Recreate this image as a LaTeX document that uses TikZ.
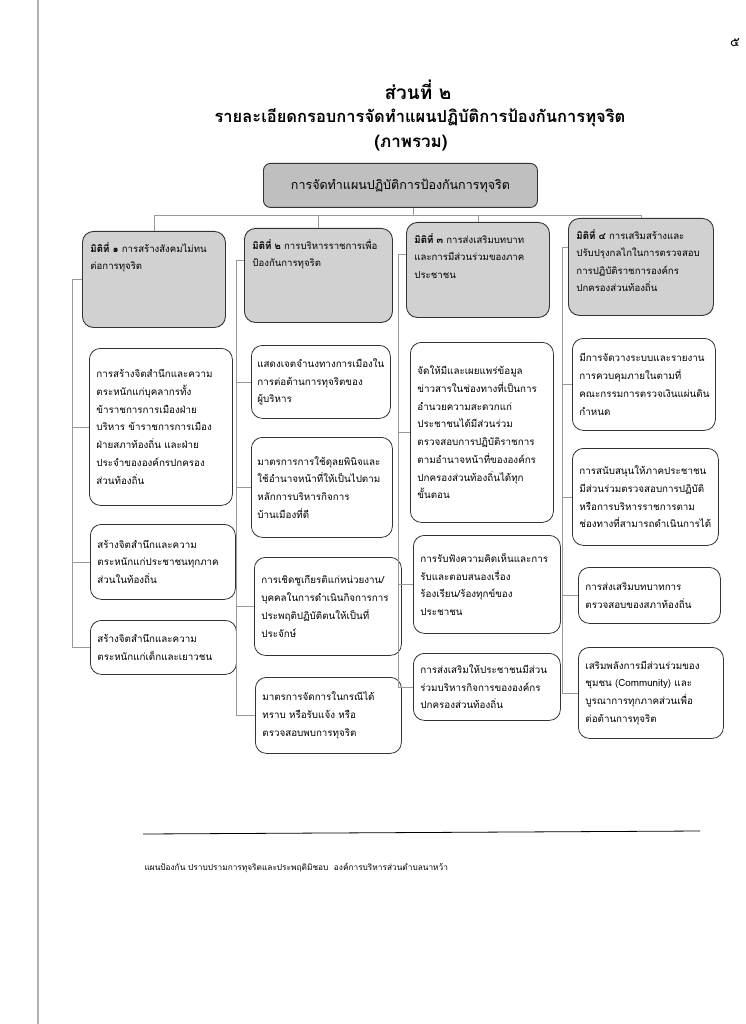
\documentclass[tikz,border=0pt]{standalone}
\usepackage{fontspec}
\newfontfamily\thaifont[Script=Thai]{Loma}
\newcommand{\dimtext}[3]{\parbox[c][#1pt][t]{#2pt}{\raggedright #3}}

\begin{document}
\begin{tikzpicture}[x=1pt,y=-1pt,
  every node/.style={font=\thaifont},
  headbox/.style={draw=black!80, line width=0.9pt, rounded corners=7pt, fill=black!25,
    anchor=north west, font=\thaifont\fontsize{12.5}{15}\selectfont},
  dimbox/.style={draw=black!80, line width=0.9pt, rounded corners=11pt, fill=black!18,
    anchor=north west, inner sep=0pt, font=\thaifont\fontsize{9.6}{17.5}\selectfont},
  itembox/.style={draw=black!80, line width=0.8pt, rounded corners=11pt, fill=white,
    anchor=north west, inner sep=0pt, align=left, font=\thaifont\fontsize{9.8}{17.7}\selectfont},
  link/.style={draw=black!40, line width=0.6pt}]

\useasboundingbox (0,0) rectangle (745,1024);

% scanned page edge
\draw[black!30, line width=1.5pt] (38,0) -- (38,1024);

% Define parameters
\def\busy{215}

% ===== PAGE NUMBER AND TITLE =====
\node (pagenum) at (735,43) {\fontsize{13}{13}\selectfont ๕};
\node (part)  at (418,90)  {\fontsize{19}{22}\selectfont\bfseries ส่วนที่ ๒};
\node (title) at (420,118) {\fontsize{16.5}{20}\selectfont\bfseries รายละเอียดกรอบการจัดทำแผนปฏิบัติการป้องกันการทุจริต};
\node (whole) at (411,143) {\fontsize{17}{20}\selectfont\bfseries (ภาพรวม)};

% ===== TOP BOX =====
\node[headbox, minimum width=274pt, minimum height=44pt] (top) at (263,163)
  {การจัดทำแผนปฏิบัติการป้องกันการทุจริต};

% ===== DIMENSIONS =====
\node[dimbox, minimum width=143pt, minimum height=96pt] (d1) at (82,231)
  {\dimtext{74}{127}{\textbf{มิติที่ ๑} การสร้างสังคมไม่ทน\\ต่อการทุจริต}};
\node[dimbox, minimum width=148pt, minimum height=94pt] (d2) at (244,228)
  {\dimtext{72}{132}{\textbf{มิติที่ ๒} การบริหารราชการเพื่อ\\ป้องกันการทุจริต}};
\node[dimbox, minimum width=143pt, minimum height=95pt] (d3) at (406,222)
  {\dimtext{73}{127}{\textbf{มิติที่ ๓} การส่งเสริมบทบาท\\และการมีส่วนร่วมของภาค\\ประชาชน}};
\node[dimbox, minimum width=145pt, minimum height=97pt] (d4) at (568,218)
  {\dimtext{75}{129}{\textbf{มิติที่ ๔} การเสริมสร้างและ\\ปรับปรุงกลไกในการตรวจสอบ\\การปฏิบัติราชการองค์กร\\ปกครองส่วนท้องถิ่น}};

% bus from the top box to the four dimensions
\coordinate (bus) at (413,\busy);
\draw[link] (bus |- top.south) -- (bus);
\draw[link] (d1.north) -- (d1.north |- bus) -- (d4.north |- bus) -- (d4.north);
\draw[link] (d2.north) -- (d2.north |- bus);
\draw[link] (d3.north) -- (d3.north |- bus);

% ===== COLUMN 1 =====
\node[itembox, minimum width=143pt, minimum height=157pt, text width=129pt] (c1a) at (89,348)
  {การสร้างจิตสำนึกและความ\\ตระหนักแก่บุคลากรทั้ง\\ข้าราชการการเมืองฝ่าย\\บริหาร ข้าราชการการเมือง\\ฝ่ายสภาท้องถิ่น และฝ่าย\\ประจำขององค์กรปกครอง\\ส่วนท้องถิ่น};
\node[itembox, minimum width=145pt, minimum height=75pt, text width=131pt] (c1b) at (90,524)
  {สร้างจิตสำนึกและความ\\ตระหนักแก่ประชาชนทุกภาค\\ส่วนในท้องถิ่น};
\node[itembox, minimum width=146pt, minimum height=54pt, text width=132pt] (c1c) at (90,620)
  {สร้างจิตสำนึกและความ\\ตระหนักแก่เด็กและเยาวชน};

\coordinate (s1) at (72,0);
\draw[link] (d1.west) -| (s1 |- c1c.west) -- (c1c.west);
\foreach \c in {c1a,c1b} \draw[link] (s1 |- \c.west) -- (\c.west);

% ===== COLUMN 2 =====
\node[itembox, minimum width=139pt, minimum height=73pt, text width=127pt] (c2a) at (251,345)
  {แสดงเจตจำนงทางการเมืองใน\\การต่อต้านการทุจริตของ\\ผู้บริหาร};
\node[itembox, minimum width=141pt, minimum height=100pt, text width=129pt] (c2b) at (251,437)
  {มาตรการการใช้ดุลยพินิจและ\\ใช้อำนาจหน้าที่ให้เป็นไปตาม\\หลักการบริหารกิจการ\\บ้านเมืองที่ดี};
\node[itembox, minimum width=147pt, minimum height=98pt, text width=133pt] (c2c) at (254,557)
  {การเชิดชูเกียรติแก่หน่วยงาน/\\บุคคลในการดำเนินกิจการการ\\ประพฤติปฏิบัติตนให้เป็นที่\\ประจักษ์};
\node[itembox, minimum width=146pt, minimum height=76pt, text width=132pt] (c2d) at (255,677)
  {มาตรการจัดการในกรณีได้\\ทราบ หรือรับแจ้ง หรือ\\ตรวจสอบพบการทุจริต};

\coordinate (s2) at (236,0);
\draw[link] ([yshift=15pt]d2.west) -| (s2 |- c2d.west) -- (c2d.west);
\foreach \c in {c2a,c2b,c2c} \draw[link] (s2 |- \c.west) -- (\c.west);

% ===== COLUMN 3 =====
\node[itembox, minimum width=143pt, minimum height=180pt, text width=129pt] (c3a) at (410,342)
  {จัดให้มีและเผยแพร่ข้อมูล\\ข่าวสารในช่องทางที่เป็นการ\\อำนวยความสะดวกแก่\\ประชาชนได้มีส่วนร่วม\\ตรวจสอบการปฏิบัติราชการ\\ตามอำนาจหน้าที่ขององค์กร\\ปกครองส่วนท้องถิ่นได้ทุก\\ขั้นตอน};
\node[itembox, minimum width=147pt, minimum height=98pt, text width=133pt] (c3b) at (413,535)
  {การรับฟังความคิดเห็นและการ\\รับและตอบสนองเรื่อง\\ร้องเรียน/ร้องทุกข์ของ\\ประชาชน};
\node[itembox, minimum width=147pt, minimum height=67pt, text width=133pt] (c3c) at (413,653)
  {การส่งเสริมให้ประชาชนมีส่วน\\ร่วมบริหารกิจการขององค์กร\\ปกครองส่วนท้องถิ่น};

\coordinate (s3) at (398,0);
\draw[link] ([yshift=16pt]d3.west) -| (s3 |- c3c.west) -- (c3c.west);
\foreach \c in {c3a,c3b} \draw[link] (s3 |- \c.west) -- (\c.west);

% ===== COLUMN 4 =====
\node[itembox, minimum width=143pt, minimum height=92pt, text width=129pt] (c4a) at (572,338)
  {มีการจัดวางระบบและรายงาน\\การควบคุมภายในตามที่\\คณะกรรมการตรวจเงินแผ่นดิน\\กำหนด};
\node[itembox, minimum width=146pt, minimum height=97pt, text width=132pt] (c4b) at (572,448)
  {การสนับสนุนให้ภาคประชาชน\\มีส่วนร่วมตรวจสอบการปฏิบัติ\\หรือการบริหารราชการตาม\\ช่องทางที่สามารถดำเนินการได้};
\node[itembox, minimum width=142pt, minimum height=56pt, text width=128pt] (c4c) at (578,567)
  {การส่งเสริมบทบาทการ\\ตรวจสอบของสภาท้องถิ่น};
\node[itembox, minimum width=145pt, minimum height=91pt, text width=131pt] (c4d) at (578,647)
  {เสริมพลังการมีส่วนร่วมของ\\ชุมชน (Community) และ\\บูรณาการทุกภาคส่วนเพื่อ\\ต่อต้านการทุจริต};

\coordinate (s4) at (562,0);
\draw[link] ([yshift=20pt]d4.west) -| (s4 |- c4d.west) -- (c4d.west);
\foreach \c in {c4a,c4b,c4c} \draw[link] (s4 |- \c.west) -- (\c.west);

% ===== FOOTER =====
\draw[line width=0.8pt] (143,834) -- (700,831);
\node[anchor=west] (footer) at (141,868)
  {\fontsize{8.3}{10}\selectfont แผนป้องกัน ปราบปรามการทุจริตและประพฤติมิชอบ\ \ องค์การบริหารส่วนตำบลนาหว้า};

\end{tikzpicture}
\end{document}
